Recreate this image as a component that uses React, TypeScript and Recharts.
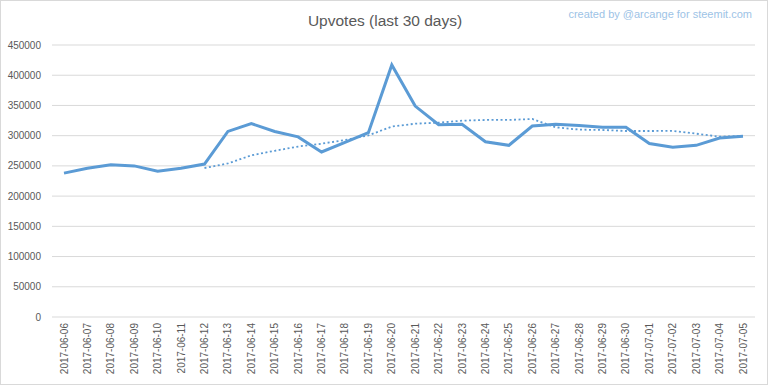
import React from "react";
import {
  LineChart,
  Line,
  XAxis,
  YAxis,
  CartesianGrid,
} from "recharts";

const dates = [
  "2017-06-06", "2017-06-07", "2017-06-08", "2017-06-09", "2017-06-10",
  "2017-06-11", "2017-06-12", "2017-06-13", "2017-06-14", "2017-06-15",
  "2017-06-16", "2017-06-17", "2017-06-18", "2017-06-19", "2017-06-20",
  "2017-06-21", "2017-06-22", "2017-06-23", "2017-06-24", "2017-06-25",
  "2017-06-26", "2017-06-27", "2017-06-28", "2017-06-29", "2017-06-30",
  "2017-07-01", "2017-07-02", "2017-07-03", "2017-07-04", "2017-07-05",
];

const upvotes = [
  238000, 246000, 252000, 250000, 241000,
  246000, 253000, 307000, 320000, 307000,
  298000, 273000, 289000, 305000, 417000,
  349000, 318000, 319000, 290000, 284000,
  316000, 319000, 317000, 314000, 314000,
  287000, 281000, 284000, 296000, 299000,
];

// 7-day trend, starts on the 7th day
const trend = [
  null, null, null, null, null,
  null, 246500, 254000, 267500, 275000,
  282000, 286700, 292800, 300500, 315000,
  319800, 321500, 324800, 326000, 326000,
  327600, 313800, 310000, 309400, 307700,
  307700, 308000, 303300, 298300, 299400,
];

const yTicks = [0, 50000, 100000, 150000, 200000, 250000, 300000, 350000, 400000, 450000];

const BLUE = "#5B9BD5";
const TEXT = "#595959";
const FONT = "'Liberation Sans', Arial, sans-serif";

const chartData = dates.map((d, i) => ({
  date: d,
  upvotes: upvotes[i],
  trend: trend[i],
}));

function DateTick(props: any) {
  const { x, y, payload } = props;
  return (
    <text
      x={x}
      y={y}
      transform={`rotate(-90, ${x}, ${y})`}
      textAnchor="end"
      dy="0.35em"
      fill={TEXT}
      fontSize={10}
      fontFamily={FONT}
    >
      {payload.value}
    </text>
  );
}

export default function App() {
  return (
    <div
      style={{
        position: "absolute",
        left: 0,
        top: 0,
        width: 768,
        height: 385,
        background: "#fff",
        boxSizing: "border-box",
        border: "1px solid #D9D9D9",
        fontFamily: FONT,
      }}
    >
      <div
        style={{
          position: "absolute",
          left: 0,
          width: 768,
          top: 10,
          textAlign: "center",
          fontSize: 15.5,
          color: TEXT,
          lineHeight: "20px",
        }}
      >
        Upvotes (last 30 days)
      </div>
      <div
        style={{
          position: "absolute",
          right: 15,
          top: 6,
          fontSize: 11,
          color: "#9DC3E6",
          lineHeight: "14px",
        }}
      >
        created by @arcange for steemit.com
      </div>
      <div style={{ position: "absolute", left: -1, top: -1 }}>
        <LineChart
          width={768}
          height={385}
          data={chartData}
          margin={{ top: 45, right: 13, left: 0, bottom: 0 }}
        >
          <CartesianGrid vertical={false} stroke="#D9D9D9" />
          <XAxis
            dataKey="date"
            interval={0}
            height={68}
            padding={{ left: 12, right: 12 }}
            axisLine={false}
            tickLine={false}
            tickMargin={0}
            tick={<DateTick />}
          />
          <YAxis
            width={52}
            domain={[0, 450000]}
            ticks={yTicks}
            axisLine={false}
            tickLine={false}
            tickMargin={5}
            tick={{ fill: TEXT, fontSize: 10, fontFamily: FONT }}
          />
          <Line
            type="linear"
            dataKey="trend"
            stroke={BLUE}
            strokeWidth={1.8}
            strokeDasharray="2 2.5"
            dot={false}
            connectNulls={false}
            isAnimationActive={false}
          />
          <Line
            type="linear"
            dataKey="upvotes"
            stroke={BLUE}
            strokeWidth={3}
            dot={false}
            isAnimationActive={false}
          />
        </LineChart>
      </div>
    </div>
  );
}
